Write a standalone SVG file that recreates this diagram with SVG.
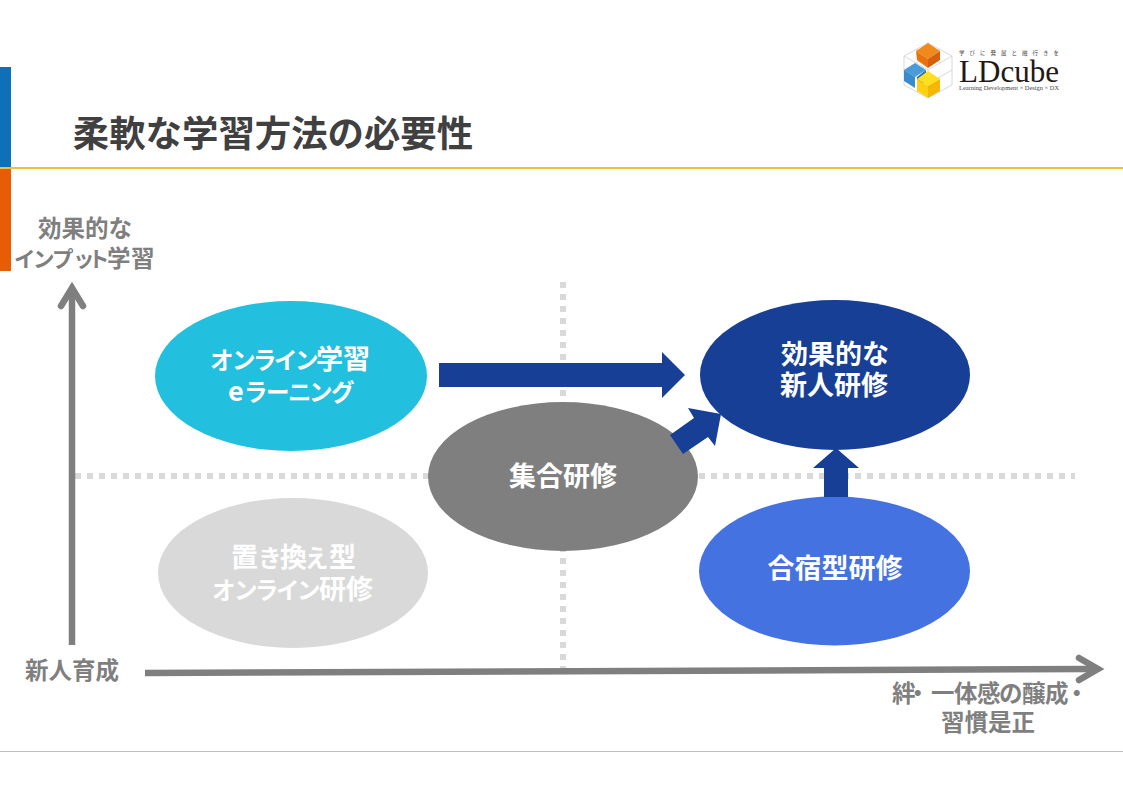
<svg xmlns="http://www.w3.org/2000/svg" width="1123" height="794" viewBox="0 0 1123 794">
<style>
text{font-family:"Noto Sans CJK JP","Noto Sans",sans-serif;font-weight:700}
.w{fill:#fff;font-size:27px}
.k{font-size:23.5px}
.k2{font-size:21.5px}
.m{text-anchor:middle}
.g{fill:#7f7f7f;font-size:23.5px}
.dot{stroke:#d9d9d9;stroke-width:6;stroke-dasharray:6 6;fill:none}
.ax{stroke:#7f7f7f;stroke-width:6.5;fill:none}
.axh{stroke:#7f7f7f;stroke-width:6.5;fill:none;stroke-linecap:round;stroke-linejoin:miter}
.ar{fill:#173f96}
.lg{stroke:#c9c9c9;stroke-width:.7;fill:none}
.s{font-family:"Liberation Serif",serif;font-weight:400;text-anchor:middle}
</style>
<rect width="1123" height="794" fill="#fff"/>
<g id="frame">
<rect x="0" y="67" width="11" height="100" fill="#0f6fb8"/>
<rect x="0" y="169" width="11" height="102" fill="#e85c05"/>
<rect x="0" y="167" width="1123" height="2" fill="#f2c037"/>
<rect x="0" y="751" width="1123" height="1" fill="#bfbfbf"/>
</g>
<text id="title" class="m" x="273" y="147" font-size="36.4" fill="#404040">柔軟な学習方法の必要性</text>
<g id="logo">
<path class="lg" d="M904 56L928 43L952 56V85L928 98L904 85ZM904 56L928 70L952 56M928 70V98M916 63L940 49M940 63L916 49M916 77L940 92M940 77L916 92M904 70L928 84L952 70"/>
<polygon points="928,43 940,51 928,59 916,51" fill="#f08a1d"/>
<polygon points="916,51 928,59 928,68 917,60" fill="#e8730c"/>
<polygon points="940,51 928,59 928,68 940,60" fill="#d65f0a"/>
<polygon points="915,63 926,70 915,77 904,70" fill="#4a9bd8"/>
<polygon points="904,70 915,77 915,88 904,81" fill="#3a8ad0"/>
<polygon points="926,70 917,77 917,88 926,82" fill="#2270b4"/>
<polygon points="928,71 940,79 928,86 917,79" fill="#ffdf20"/>
<polygon points="917,79 928,86 928,98 917,91" fill="#fdd010"/>
<polygon points="940,79 928,86 928,98 940,91" fill="#f5b800"/>
<text class="s" x="1009" y="55" font-size="5.5" fill="#444" textLength="100" style="font-family:'Noto Sans CJK JP',serif">学びに発展と融行きを</text>
<text class="s" x="1009" y="82" font-size="31" fill="#231815" textLength="100" lengthAdjust="spacingAndGlyphs">LDcube</text>
<text class="s" x="1009" y="90" font-size="6" fill="#444" textLength="100" lengthAdjust="spacingAndGlyphs">Learning Development × Design × DX</text>
</g>
<g id="guides">
<path class="dot" d="M563 282V672"/>
<path class="dot" d="M75 476H1075"/>
</g>
<g id="node-online"><ellipse cx="291" cy="376" rx="136" ry="75" fill="#22c0de"/>
<text class="w" y="369" x="210 232 253 274 295 316 343"><tspan class="k">オンライン</tspan>学習</text><text class="w" y="401" x="228 244 266 288 309 331"><tspan>e</tspan><tspan class="k">ラーニング</tspan></text></g>
<g id="node-effective"><ellipse cx="835" cy="375" rx="135" ry="75" fill="#173f96"/>
<text class="w" y="364" x="781 808 835 862">効果的な</text><text class="w m" x="834" y="395">新人研修</text></g>
<g id="node-shugo"><ellipse cx="563" cy="476.5" rx="135" ry="74.5" fill="#7f7f7f"/>
<text class="w m" x="563" y="486">集合研修</text></g>
<g id="node-replace"><ellipse cx="293" cy="573" rx="135" ry="75" fill="#d9d9d9"/>
<text class="w" y="567" x="231 258 280 305 329">置<tspan class="k">き</tspan>換<tspan class="k">え</tspan>型</text><text class="w" y="599" x="212 234 255 276 297 319 346"><tspan class="k">オンライン</tspan>研修</text></g>
<g id="node-gasshuku"><ellipse cx="834.5" cy="571" rx="135.5" ry="74.5" fill="#4472e0"/>
<text class="w m" x="835" y="578">合宿型研修</text></g>
<g id="connectors">
<path class="ax" d="M72 645V292"/>
<path class="axh" d="M61 306L72 288L83 306"/>
<path class="ax" d="M145 673L1094 669"/>
<path class="axh" d="M1079 658L1098 669L1079 680"/>
<polygon class="ar" points="439,363 662,363 662,352 685,375 662,398 662,387 439,387"/>
<polygon class="ar" points="683,454 670,435 694,418 688,408 721,414 715,446 708,437"/>
<polygon class="ar" points="824,497 824,468 813,468 836,448 859,468 848,468 848,497"/>
</g>
<g id="axis-labels">
<text class="g m" x="85" y="237">効果的な</text>
<text class="g" y="267" x="14 33 52 73 88 107 131"><tspan class="k2">インプット</tspan>学習</text>
<text class="g m" x="72" y="679">新人育成</text>
<text class="g" y="702" x="892 906 931 954 977 999 1022 1045 1065">絆・一体感の醸成・</text>
<text class="g m" x="988" y="731">習慣是正</text>
</g>
</svg>
